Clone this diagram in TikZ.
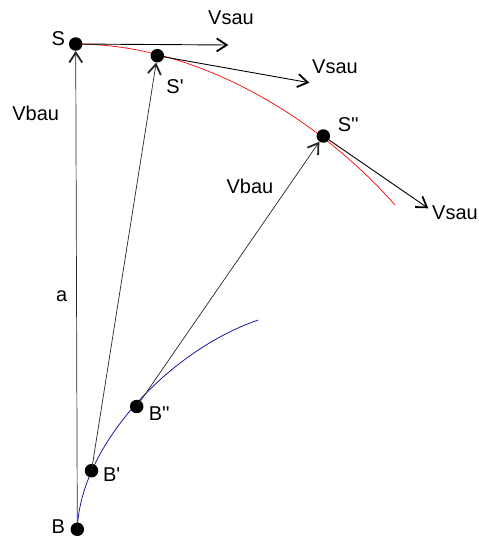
\documentclass[tikz,border=0pt]{standalone}
\usepackage{fontspec}
\setmainfont{Liberation Sans}
\usetikzlibrary{arrows.meta}
\begin{document}
\begin{tikzpicture}[x=1pt,y=-1pt,
  dot/.style={circle,fill=black,inner sep=0pt,minimum size=13.5pt},
  lbl/.style={font=\fontsize{20}{24}\selectfont,inner sep=0pt},
  vec/.style={black,line width=0.9pt,-{Straight Barb[length=10pt,width=13pt,line width=1.8pt]}},
  bau/.style={black!85,line width=0.7pt,-{Straight Barb[length=10pt,width=13pt,line width=1.8pt]}}]
\useasboundingbox (0,0) rectangle (479,539);
% positions
\coordinate (pS) at (75.7,44);
\coordinate (pS1) at (157.3,55.7);
\coordinate (pS2) at (323.3,136);
\coordinate (pB) at (77.3,529.3);
\coordinate (pB1) at (91.5,470.7);
\coordinate (pB2) at (136.7,406.5);
\coordinate (redend) at (395,205);
\coordinate (blueend) at (258.3,320);
\coordinate (t0) at (228.3,45);
\coordinate (t1) at (309.3,82.7);
\coordinate (t2) at (428.3,208.3);
% curves
\draw[red,line width=0.7pt] (pS) .. controls (200,44) and (320,120) .. (redend);
\draw[blue!60!black,line width=0.7pt] (pB) .. controls (80,445) and (170,350) .. (blueend);
% dots
\node[dot] (S) at (pS) {};
\node[dot] (S1) at (pS1) {};
\node[dot] (S2) at (pS2) {};
\node[dot] (B) at (pB) {};
\node[dot] (B1) at (pB1) {};
\node[dot] (B2) at (pB2) {};
% vectors
\draw[vec] (S.center) -- (t0);
\draw[vec] (S1.center) -- (t1);
\draw[vec] (S2.center) -- (t2);
\draw[bau] (B.center) -- (S);
\draw[bau] (B1.center) -- (S1);
\draw[bau] (B2.center) -- (S2);
% labels
\node[lbl] (lS) at (58.3,38.3) {S};
\node[lbl] (lS1) at (175,86.7) {S\textquotesingle};
\node[lbl] (lS2) at (348.3,125) {S\textquotesingle\textquotesingle};
\node[lbl] (lB) at (58.3,526.7) {B};
\node[lbl] (lB1) at (111.7,475) {B\textquotesingle};
\node[lbl] (lB2) at (159.3,413.3) {B\textquotesingle\textquotesingle};
\node[lbl] (v0) at (231,18) {Vsau};
\node[lbl] (v1) at (335,66.7) {Vsau};
\node[lbl] (v2) at (455,213) {Vsau};
\node[lbl] (w0) at (35.7,113.3) {Vbau};
\node[lbl] (w1) at (250,186.7) {Vbau};
\node[lbl] (la) at (61.7,296.7) {a};
\end{tikzpicture}
\end{document}
